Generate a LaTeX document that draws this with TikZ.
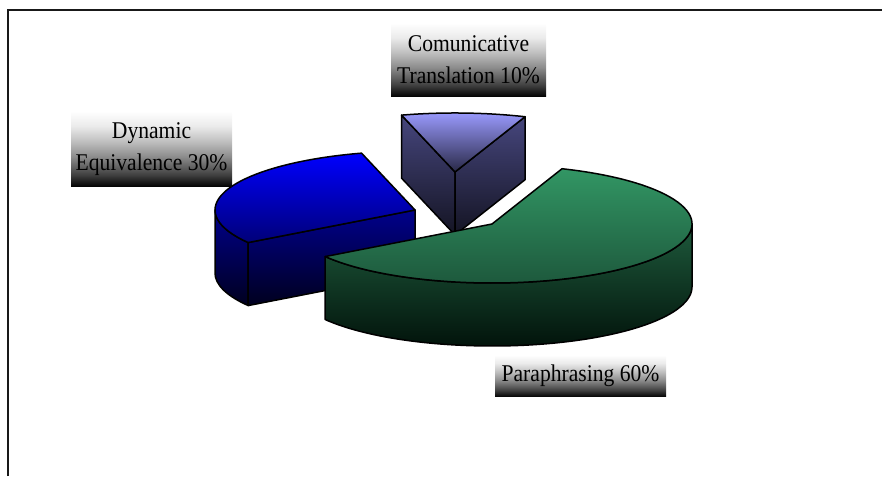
\documentclass[tikz,border=0pt]{standalone}
\usepackage{fontspec}
\setmainfont[FakeStretch=0.9]{Liberation Serif}
\pgfdeclareverticalshading{labshade}{100bp}{color(0bp)=(black); color(25bp)=(black); color(33bp)=(black!75); color(45bp)=(black!45); color(55bp)=(black!25); color(65bp)=(black!8); color(75bp)=(white); color(100bp)=(white)}
\definecolor{gtopA}{RGB}{50,150,100}
\definecolor{gtopB}{RGB}{28,85,58}
\definecolor{gsideA}{RGB}{30,90,60}
\definecolor{gsideB}{RGB}{0,15,8}
\definecolor{btopA}{RGB}{0,0,255}
\definecolor{btopB}{RGB}{0,0,120}
\definecolor{bsideA}{RGB}{0,0,140}
\definecolor{bsideB}{RGB}{0,0,30}
\definecolor{ptopA}{RGB}{155,155,255}
\definecolor{ptopB}{RGB}{40,40,70}
\definecolor{psideA}{RGB}{70,70,125}
\definecolor{psideB}{RGB}{20,20,35}
\definecolor{framecol}{RGB}{25,25,25}
\tikzset{
  face/.style={draw=black, line width=1.5pt, line join=round},
  gtop/.style={face, top color=gtopA, bottom color=gtopB},
  gside/.style={face, top color=gsideA, bottom color=gsideB},
  btop/.style={face, top color=btopA, bottom color=btopB},
  bside/.style={face, top color=bsideA, bottom color=bsideB},
  ptop/.style={face, top color=ptopA, bottom color=ptopB},
  pside/.style={face, top color=psideA, bottom color=psideB},
  lab/.style={shade, shading=labshade, inner sep=0pt, align=center, text=black,
              font=\fontsize{24}{32}\selectfont},
  el/.style={x radius=200, y radius=59}
}
\begin{document}
\begin{tikzpicture}[x=1pt,y=1pt]
\useasboundingbox (0,0) rectangle (882,476);
% frame
\draw[framecol, line width=2pt] (8.3,0) -- (8.3,465.5) -- (882,465.5);
% centres and rim points
\coordinate (P) at (455,304);
\coordinate (P1) at (525.04,359.27);
\coordinate (P2) at (401.55,360.85);
\coordinate (B) at (415,266);
\coordinate (B2) at (361.55,322.85);
\coordinate (B3) at (248.22,233.44);
\coordinate (BL) at (215,266);
\coordinate (G) at (492,252);
\coordinate (G0) at (692,252);
\coordinate (G1) at (562.04,307.27);
% Comunicative Translation slice
\draw[pside] (P2) -- (P) -- ++(0,-63) -- ++(-53.45,56.85) -- cycle;
\draw[pside] (P1) -- (P) -- ++(0,-63) -- ++(70.04,55.27) -- cycle;
\draw[ptop] (P) -- (P1) arc[start angle=69.5, end angle=105.5, el] -- cycle;
% Dynamic Equivalence slice
\draw[bside] (BL) arc[start angle=180, end angle=213.5, el] -- ++(0,-63) arc[start angle=213.5, end angle=180, el] -- cycle;
\draw[bside] (B3) -- (B) -- ++(0,-63) -- ++(-166.78,-32.56) -- cycle;
\draw[btop] (B) -- (B2) arc[start angle=105.5, end angle=213.5, el] -- cycle;
% Paraphrasing slice
\draw[gside] (G0) arc[start angle=0, end angle=-146.5, el] -- ++(0,-63) arc[start angle=-146.5, end angle=0, el] -- cycle;
\draw[gtop] (G) -- (G1) arc[start angle=69.5, end angle=-146.5, el] -- cycle;
% labels
\node[lab, minimum width=155pt, minimum height=74pt] (com) at (468.5,416) {Comunicative\\Translation 10\%};
\node[lab, minimum width=161pt, minimum height=76pt] (dyn) at (151.5,327) {Dynamic\\Equivalence 30\%};
\node[lab, minimum width=171pt, minimum height=42pt] (par) at (580.5,100) {Paraphrasing 60\%};
\end{tikzpicture}
\end{document}
